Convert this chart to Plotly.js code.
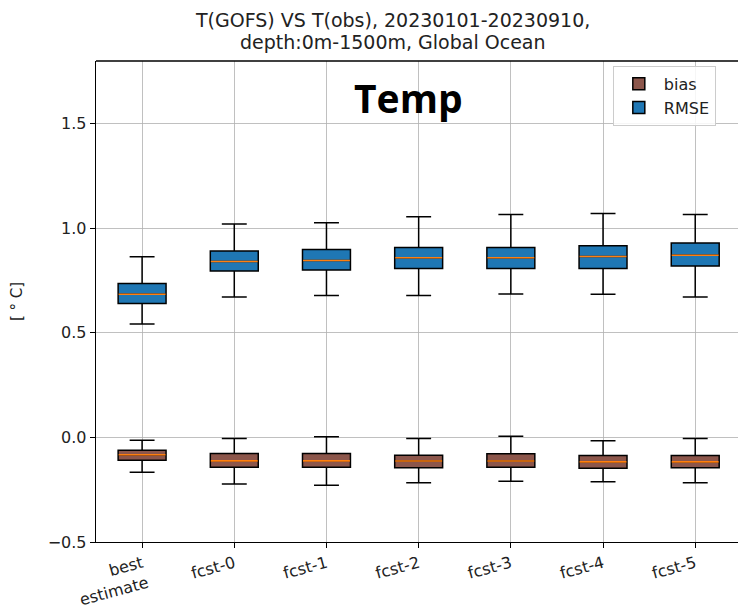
<!DOCTYPE html>
<html>
<head>
<meta charset="utf-8">
<script src="https://cdn.plot.ly/plotly-3.0.1.min.js"></script>
<style>html,body{margin:0;padding:0;background:#fff;}#chart{width:738px;height:610px;}</style>
</head>
<body>
<div id="chart"></div>
<script>
var categories = ["best<br>estimate", "fcst-0", "fcst-1", "fcst-2", "fcst-3", "fcst-4", "fcst-5"];

var rmseLow    = [0.542, 0.672, 0.679, 0.679, 0.686, 0.685, 0.672];
var rmseQ1     = [0.640, 0.796, 0.801, 0.808, 0.808, 0.808, 0.820];
var rmseMedian = [0.685, 0.841, 0.846, 0.859, 0.859, 0.865, 0.871];
var rmseQ3     = [0.736, 0.891, 0.899, 0.908, 0.908, 0.916, 0.930];
var rmseHigh   = [0.864, 1.020, 1.026, 1.055, 1.066, 1.071, 1.066];

var biasLow    = [-0.167, -0.223, -0.229, -0.217, -0.209, -0.212, -0.217];
var biasQ1     = [-0.109, -0.143, -0.143, -0.145, -0.143, -0.147, -0.145];
var biasMedian = [-0.083, -0.112, -0.112, -0.113, -0.113, -0.117, -0.117];
var biasQ3     = [-0.061, -0.077, -0.077, -0.085, -0.078, -0.086, -0.086];
var biasHigh   = [-0.013, -0.005, 0.003, -0.005, 0.006, -0.016, -0.005];

var yTicks = [-0.5, 0.0, 0.5, 1.0, 1.5];
var yTickText = ["\u22120.5", "0.0", "0.5", "1.0", "1.5"];

var titleLine1 = "T(GOFS) VS T(obs), 20230101-20230910,";
var titleLine2 = "depth:0m-1500m, Global Ocean";

function boxTrace(name, fill, lo, q1, med, q3, hi) {
  return {
    type: "box", name: name, x: categories,
    lowerfence: lo, q1: q1, median: med, q3: q3, upperfence: hi,
    fillcolor: fill, line: {color: "#000", width: 1.5},
    width: 0.52, whiskerwidth: 0.52, boxpoints: false, hoverinfo: "skip"
  };
}
function medianTrace(med) {
  return {
    type: "scatter", mode: "markers", x: categories, y: med, showlegend: false, hoverinfo: "skip",
    marker: {symbol: "line-ew-open", size: 33.5, line: {color: "#ff7f0e", width: 1.6}, color: "#ff7f0e"}
  };
}

var data = [
  boxTrace("bias", "#8c564b", biasLow, biasQ1, biasMedian, biasQ3, biasHigh),
  boxTrace("RMSE", "#1f77b4", rmseLow, rmseQ1, rmseMedian, rmseQ3, rmseHigh),
  medianTrace(biasMedian),
  medianTrace(rmseMedian)
];

var tickFont = {family: "DejaVu Sans", size: 16, color: "#222"};
var titleFont = {family: "DejaVu Sans", size: 19, color: "#222"};
var layout = {
  width: 738, height: 610,
  margin: {l: 96, r: 0, t: 61, b: 68},
  paper_bgcolor: "#fff", plot_bgcolor: "#fff",
  boxmode: "overlay",
  xaxis: {
    type: "category", range: [-0.5, 6.464], showgrid: true, gridcolor: "#b0b0b0", gridwidth: 0.8,
    showline: true, linecolor: "#000", linewidth: 1.3, ticks: "outside", ticklen: 5, tickcolor: "#000",
    tickangle: -15, tickfont: tickFont, zeroline: false, fixedrange: true
  },
  yaxis: {
    range: [-0.5, 1.8], tickvals: yTicks, ticktext: yTickText, showgrid: true, gridcolor: "#b0b0b0", gridwidth: 0.8,
    showline: true, linecolor: "#000", linewidth: 1.3, ticks: "outside", ticklen: 5, tickcolor: "#000",
    tickfont: tickFont, zeroline: false,
    title: {text: "[ \u00b0 C]", font: {family: "DejaVu Sans", size: 15, color: "#222"}, standoff: 21}
  },
  legend: {
    x: 0.805, y: 0.99, xanchor: "left", yanchor: "top",
    bgcolor: "rgba(255,255,255,0.85)", bordercolor: "#cccccc", borderwidth: 1,
    font: {family: "DejaVu Sans", size: 16, color: "#222"}, itemwidth: 40
  },
  shapes: [{type: "line", xref: "paper", yref: "paper", x0: 0, x1: 1, y0: 1, y1: 1, line: {color: "#000", width: 1.3}}],
  annotations: [
    {text: titleLine1, xref: "paper", yref: "paper", x: 0.4626, y: 1, yshift: 41, xanchor: "center", yanchor: "middle",
     showarrow: false, font: titleFont},
    {text: titleLine2, xref: "paper", yref: "paper", x: 0.4626, y: 1, yshift: 19, xanchor: "center", yanchor: "middle",
     showarrow: false, font: titleFont},
    {text: "<b>Temp</b>", xref: "paper", yref: "paper", x: 0.486, y: 0.925, xanchor: "center", yanchor: "middle",
     showarrow: false, font: {family: "Open Sans", size: 39, color: "#000"}}
  ],
  showlegend: true
};

Plotly.newPlot("chart", data, layout, {displayModeBar: false, staticPlot: true});
</script>
</body>
</html>
